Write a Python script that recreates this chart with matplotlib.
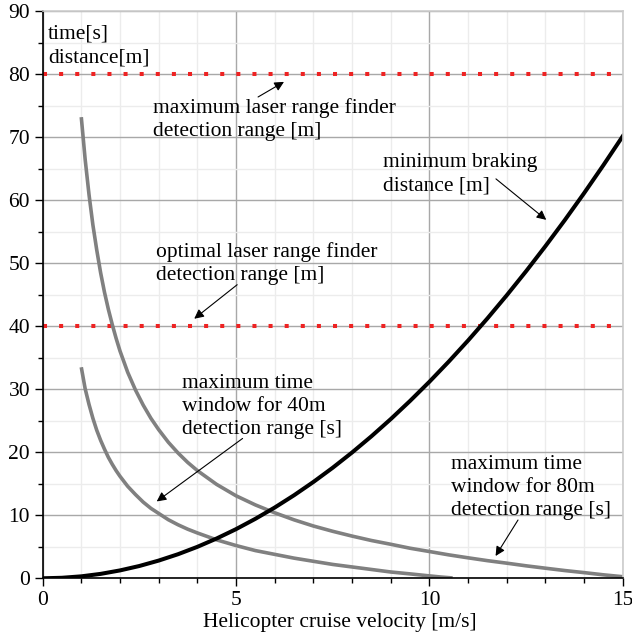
import matplotlib
matplotlib.use("Agg")
import matplotlib.pyplot as plt
from matplotlib.ticker import MultipleLocator

plt.rcParams['font.family'] = ['Liberation Serif', 'DejaVu Serif']

# Minimum braking distance [m] vs cruise velocity [m/s]
v_brake = [0, 0.5, 1, 1.5, 2, 2.5, 3, 3.5, 4, 4.5, 5, 5.5, 6, 6.5, 7, 7.5,
           8, 8.5, 9, 9.5, 10, 10.5, 11, 11.5, 12, 12.5, 13, 13.5, 14, 14.5, 15]
d_brake = [0, 0.08, 0.31, 0.7, 1.25, 1.95, 2.81, 3.82, 4.99, 6.32, 7.8, 9.44,
           11.23, 13.18, 15.29, 17.55, 19.97, 22.54, 25.27, 28.16, 31.2, 34.4,
           37.75, 41.26, 44.93, 48.75, 52.73, 56.86, 61.15, 65.6, 70.2]

# Maximum time window [s] for 80 m detection range
v_t80 = [1.0, 1.1, 1.2, 1.3, 1.4, 1.5, 1.6, 1.7, 1.8, 1.9, 2.0, 2.2, 2.4, 2.6,
         2.8, 3.0, 3.25, 3.5, 3.75, 4.0, 4.5, 5.0, 5.5, 6.0, 6.5, 7.0, 7.5,
         8.0, 8.5, 9.0, 9.5, 10.0, 10.5, 11.0, 11.5, 12.0, 12.5, 13.0, 13.5,
         14.0, 14.5, 15.0]
t80 = [73.2, 66.5, 60.9, 56.1, 52.1, 48.5, 45.4, 42.7, 40.3, 38.1, 36.1, 32.7,
       29.9, 27.5, 25.4, 23.6, 21.6, 19.9, 18.4, 17.1, 14.9, 13.1, 11.65,
       10.4, 9.28, 8.3, 7.46, 6.7, 6.0, 5.4, 4.77, 4.25, 3.72, 3.25, 2.8, 2.4,
       1.98, 1.6, 1.23, 0.9, 0.55, 0.25]

# Maximum time window [s] for 40 m detection range
v_t40 = [1.0, 1.1, 1.2, 1.3, 1.4, 1.5, 1.6, 1.7, 1.8, 1.9, 2.0, 2.2, 2.4, 2.6,
         2.8, 3.0, 3.25, 3.5, 3.75, 4.0, 4.5, 5.0, 5.5, 6.0, 6.5, 7.0, 7.5,
         8.0, 8.5, 9.0, 9.5, 10.0, 10.3, 10.6]
t40 = [33.5, 30.1, 27.6, 25.4, 23.5, 21.9, 20.5, 19.2, 18.1, 17.1, 16.2, 14.6,
       13.3, 12.1, 11.1, 10.3, 9.3, 8.5, 7.8, 7.2, 6.1, 5.2, 4.4, 3.8, 3.2,
       2.7, 2.2, 1.8, 1.4, 1.0, 0.7, 0.38, 0.2, 0.05]

# Laser range finder detection ranges [m]
range_max = 80
range_opt = 40

fig = plt.figure(figsize=(6.32, 6.39), dpi=100)
ax = fig.add_axes([0.0674, 0.095, 0.9181, 0.8873])

ax.set_xlim(0, 15)
ax.set_ylim(0, 90)
ax.xaxis.set_major_locator(MultipleLocator(5))
ax.xaxis.set_minor_locator(MultipleLocator(1))
ax.yaxis.set_major_locator(MultipleLocator(10))
ax.yaxis.set_minor_locator(MultipleLocator(5))
ax.grid(which='major', color='#a8a8a8', lw=1.0)
ax.grid(which='minor', color='#ececec', lw=1.0)
ax.set_axisbelow(True)

for side in ('top', 'right'):
    ax.spines[side].set_color('#cccccc')
    ax.spines[side].set_linewidth(1.2)
for side in ('left', 'bottom'):
    ax.spines[side].set_color('black')
    ax.spines[side].set_linewidth(1.2)

ax.tick_params(which='major', direction='out', length=6, width=1, labelsize=15.5,
               pad=3)
ax.tick_params(which='minor', direction='out', length=3.5, width=1)

# Detection range levels
dots = dict(color='#ee2222', lw=2.9, linestyle=(0, (1, 3)), dash_capstyle='butt')
ax.axhline(range_max, **dots)
ax.axhline(range_opt, **dots)

# Curves
ax.plot(v_t80, t80, color='#808080', lw=2.6, solid_capstyle='butt')
ax.plot(v_t40, t40, color='#808080', lw=2.6, solid_capstyle='butt')
ax.plot(v_brake, d_brake, color='black', lw=2.9)

ax.set_xlabel('Helicopter cruise velocity [m/s]', fontsize=15.5)
ax.xaxis.set_label_coords(0.513, -0.061)

# Labels: y is the baseline of the last line
txt = dict(fontsize=15.5, ha='left', va='baseline', linespacing=1.3)
ax.text(0.14, 81.95, 'time[s]\ndistance[m]', **txt)
ax.text(2.85, 70.2, 'maximum laser range finder\ndetection range [m]', **txt)
ax.text(8.79, 61.6, 'minimum braking\ndistance [m]', **txt)
ax.text(2.93, 47.3, 'optimal laser range finder\ndetection range [m]', **txt)
ax.text(3.60, 22.9, 'maximum time\nwindow for 40m\ndetection range [s]', **txt)
ax.text(10.56, 10.0, 'maximum time\nwindow for 80m\ndetection range [s]', **txt)

arrow = dict(arrowstyle='-|>', color='black', lw=0.8, mutation_scale=14,
             shrinkA=0, shrinkB=0)
ax.annotate('', xy=(6.24, 78.8), xytext=(5.57, 76.4), arrowprops=arrow)
ax.annotate('', xy=(13.02, 56.9), xytext=(11.72, 63.4), arrowprops=arrow)
ax.annotate('', xy=(3.92, 41.2), xytext=(5.03, 46.6), arrowprops=arrow)
ax.annotate('', xy=(2.95, 12.2), xytext=(5.17, 22.2), arrowprops=arrow)
ax.annotate('', xy=(11.71, 3.54), xytext=(12.29, 9.25), arrowprops=arrow)

fig.savefig('out.png', dpi=100)
